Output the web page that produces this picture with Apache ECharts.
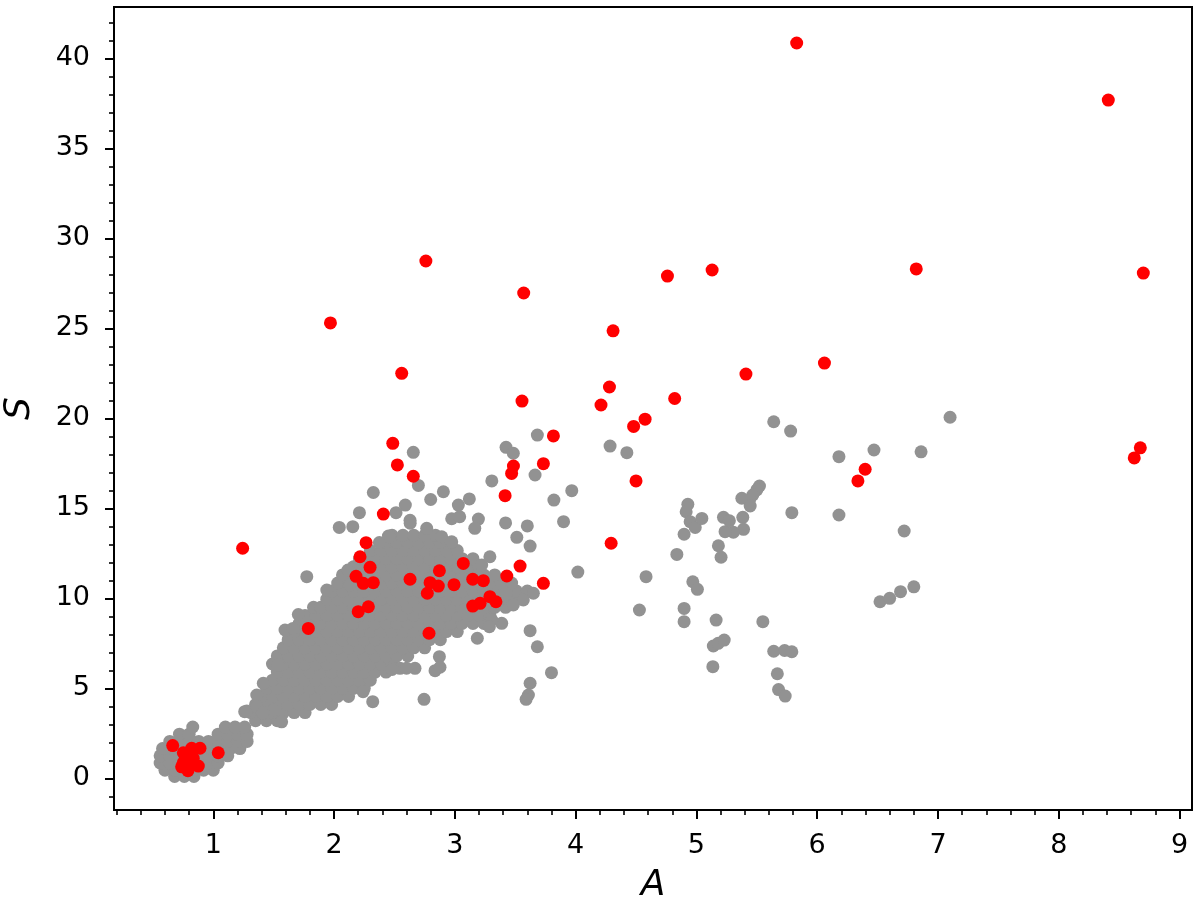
<!DOCTYPE html>
<html>
<head>
<meta charset="utf-8">
<script src="https://cdn.jsdelivr.net/npm/echarts@6/dist/echarts.min.js"></script>
<style>
html,body{margin:0;padding:0;background:#fff;}
#chart{width:1200px;height:907px;}
</style>
</head>
<body>
<div id="chart"></div>
<script>
// ---- tick values ----
const xMajorTicks = [1,2,3,4,5,6,7,8,9];
const xMinorTicks = [0.2,0.4,0.6,0.8,1.2,1.4,1.6,1.8,2.2,2.4,2.6,2.8,3.2,3.4,3.6,3.8,4.2,4.4,4.6,4.8,5.2,5.4,5.6,5.8,6.2,6.4,6.6,6.8,7.2,7.4,7.6,7.8,8.2,8.4,8.6,8.8,9.0];
const yMajorTicks = [0,5,10,15,20,25,30,35,40];
const yMinorTicks = [-1,1,2,3,4,6,7,8,9,11,12,13,14,16,17,18,19,21,22,23,24,26,27,28,29,31,32,33,34,36,37,38,39,41,42];

// ---- gray points: lower-left clump, rows of [S, [A values]] ----
const grayLowRows = [
  [0.10, [0.68,0.76,0.84]],
  [0.45, [0.60,0.68,0.76,0.84,0.92,1.00]],
  [0.85, [0.56,0.64,0.72,0.80,0.88,0.96,1.04]],
  [1.25, [0.56,0.64,0.72,0.80,0.88,0.96,1.04,1.12]],
  [1.65, [0.58,0.66,0.74,0.82,0.90,0.98,1.06,1.14,1.22]],
  [2.05, [0.64,0.72,0.80,0.88,0.96,1.04,1.12,1.20,1.28]],
  [2.45, [0.72,0.80,1.04,1.12,1.20,1.28]],
  [2.85, [0.83,1.10,1.18,1.26]]
];

// ---- gray points: main dense cloud, rows of [S, [A values]] ----
const grayMainRows = [
  [3.2,  [1.35,1.44,1.53]],
  [3.65, [1.31,1.40,1.49,1.58,1.67,1.76]],
  [4.1,  [1.35,1.44,1.53,1.62,1.71,1.80,1.89,1.98]],
  [4.55, [1.40,1.49,1.58,1.67,1.76,1.85,1.94,2.03,2.12]],
  [5.0,  [1.44,1.53,1.62,1.71,1.80,1.89,1.98,2.07,2.16,2.25]],
  [5.45, [1.49,1.58,1.67,1.76,1.85,1.94,2.03,2.12,2.21,2.30]],
  [5.9,  [1.53,1.62,1.71,1.80,1.89,1.98,2.07,2.16,2.25,2.34,2.43]],
  [6.35, [1.49,1.58,1.67,1.76,1.85,1.94,2.03,2.12,2.21,2.30,2.39,2.48]],
  [6.8,  [1.53,1.62,1.71,1.80,1.89,1.98,2.07,2.16,2.25,2.34,2.43,2.52,2.61]],
  [7.25, [1.58,1.67,1.76,1.85,1.94,2.03,2.12,2.21,2.30,2.39,2.48,2.57,2.66,2.75]],
  [7.7,  [1.62,1.71,1.80,1.89,1.98,2.07,2.16,2.25,2.34,2.43,2.52,2.61,2.70,2.79,2.88]],
  [8.15, [1.67,1.76,1.85,1.94,2.03,2.12,2.21,2.30,2.39,2.48,2.57,2.66,2.75,2.84,2.93,3.02]],
  [8.6,  [1.71,1.80,1.89,1.98,2.07,2.16,2.25,2.34,2.43,2.52,2.61,2.70,2.79,2.88,2.97,3.06,3.15,3.24]],
  [9.05, [1.76,1.85,1.94,2.03,2.12,2.21,2.30,2.39,2.48,2.57,2.66,2.75,2.84,2.93,3.02,3.11,3.20,3.29]],
  [9.5,  [1.83,1.89,1.98,2.07,2.16,2.25,2.34,2.43,2.52,2.61,2.70,2.79,2.88,2.97,3.06,3.15,3.24,3.33,3.42]],
  [9.95, [1.94,2.03,2.12,2.21,2.30,2.39,2.48,2.57,2.66,2.75,2.84,2.93,3.02,3.11,3.20,3.29,3.38,3.47,3.56]],
  [10.4, [1.98,2.07,2.16,2.25,2.34,2.43,2.52,2.61,2.70,2.79,2.88,2.97,3.06,3.15,3.24,3.33,3.42,3.51,3.60]],
  [10.85,[2.03,2.12,2.21,2.30,2.39,2.48,2.57,2.66,2.75,2.84,2.93,3.02,3.11,3.20,3.29,3.38,3.47]],
  [11.3, [2.07,2.16,2.25,2.34,2.43,2.52,2.61,2.70,2.79,2.88,2.97,3.06,3.15,3.24,3.33]],
  [11.75,[2.16,2.21,2.30,2.39,2.48,2.57,2.66,2.75,2.84,2.93,3.02,3.11,3.20]],
  [12.2, [2.21,2.25,2.34,2.43,2.52,2.61,2.70,2.79,2.88,2.97,3.06,3.15]],
  [12.65,[2.30,2.39,2.48,2.57,2.66,2.75,2.84,2.93,3.02]],
  [13.1, [2.43,2.52,2.61,2.70,2.79,2.88,2.97]],
  [13.5, [2.48,2.57,2.66,2.75,2.84]]
];

// ---- gray points: scattered individual [A, S] ----
const grayScattered = [
  [5.78,19.29],[7.10,20.06],[6.18,17.87],[6.47,18.24],[6.86,18.14],[5.79,14.76],[6.18,14.63],[6.72,13.74],
  [6.52,9.81],[6.60,10.00],[6.69,10.37],[6.80,10.64],[5.64,7.06],[5.73,7.10],[5.79,7.03],[5.67,5.81],[5.68,4.93],[5.735,4.57],
  [5.64,19.81],[4.285,18.46],[4.424,18.09],[3.968,15.98],[3.90,14.26],[5.522,16.24],[5.50,16.02],[5.467,15.74],[5.44,15.46],
  [5.376,15.56],[5.445,15.13],[5.384,14.50],[5.39,13.83],[5.306,13.67],[5.237,13.70],[5.224,14.50],[5.273,14.31],[5.182,12.92],
  [5.204,12.28],[4.929,15.22],[4.915,14.81],[4.948,14.26],[4.99,13.94],[5.045,14.44],[4.898,13.56],[4.838,12.44],[4.018,11.46],
  [4.583,11.20],[4.97,10.92],[5.008,10.50],[4.528,9.35],[4.898,9.44],[4.898,8.70],[5.163,8.79],[5.55,8.70],[5.14,7.35],
  [5.18,7.50],[5.23,7.68],[5.136,6.20],
  [3.683,19.07],[3.424,18.39],[3.484,18.06],[3.306,16.52],[3.664,16.85],[3.82,15.46],[2.656,18.11],[2.698,16.27],[2.905,15.92],
  [2.80,15.49],[3.029,15.18],[3.12,15.52],[2.974,14.42],[3.04,14.53],[3.195,14.40],[3.165,13.89],[2.629,14.33],[2.767,13.89],
  [2.59,15.18],[3.42,14.19],[3.60,14.02],[3.513,13.39],[3.623,12.90],[2.891,13.42],[2.974,13.14],[3.29,12.31],[3.222,11.85],
  [2.325,15.88],[2.21,14.76],[2.155,13.98],[2.043,13.94],[2.513,14.76],[2.45,13.46],[2.375,13.10],[2.46,13.42],[2.63,14.17],
  [3.65,10.28],[3.567,9.91],[3.484,9.63],[3.424,10.28],[3.388,8.61],[3.306,8.79],[3.286,8.42],[3.623,8.20],[3.683,7.31],
  [3.80,5.87],[3.623,5.28],[3.609,4.63],[3.59,4.39],[3.186,7.78],[2.872,6.76],[2.836,5.98],[2.877,6.17],[2.745,4.39],
  [2.67,6.11],[2.546,6.11],[2.60,6.12],[2.48,6.05],
  [1.774,11.20],[1.94,10.46],[1.704,9.10],[1.594,8.24],[1.66,8.33],[1.538,6.29],[1.414,5.28],[1.36,4.63],[1.26,3.70],
  [2.115,11.57],[2.13,10.74],[2.24,4.81],[2.32,4.26],[1.277,3.74],[1.36,3.98],[1.497,3.79],[1.41,3.63],[1.566,3.14]
];

// ---- red points [A, S] ----
const redPoints = [
  [5.83,40.85],[8.41,37.68],[1.97,25.30],[2.76,28.74],[2.56,22.50],[3.57,26.96],[4.76,27.90],[5.13,28.24],[6.82,28.30],
  [8.70,28.07],[4.31,24.86],[4.28,21.74],[4.21,20.74],[6.06,23.07],[5.41,22.46],[3.556,20.96],[4.82,21.10],[4.575,19.95],
  [4.48,19.55],[3.816,19.02],[3.733,17.48],[3.485,17.35],[3.47,16.94],[3.416,15.70],[2.486,18.61],[2.524,17.41],[2.656,16.78],
  [2.408,14.68],[4.50,16.52],[4.294,13.06],[6.397,17.17],[6.337,16.52],[8.675,18.36],[8.625,17.80],[1.243,12.78],
  [2.265,13.09],[2.215,12.31],[2.298,11.72],[2.182,11.22],[2.242,10.83],[2.325,10.87],[2.629,11.06],[2.284,9.53],[2.20,9.26],
  [1.787,8.33],[3.07,11.94],[3.54,11.79],[3.43,11.24],[3.733,10.83],[2.872,11.53],[2.795,10.87],[2.863,10.68],[2.993,10.76],
  [3.148,11.06],[3.236,10.98],[2.772,10.28],[3.29,10.09],[3.34,9.81],[3.148,9.57],[3.209,9.72],[2.786,8.06],
  [0.664,1.82],[0.752,1.42],[0.821,1.67],[0.89,1.67],[1.041,1.42],[0.752,0.87],[0.807,0.68],[0.876,0.68],[0.79,0.42],
  [0.834,1.11],[0.738,0.64]
];

// ---- assemble ----
const grayData = [];
grayLowRows.forEach(r => r[1].forEach(x => grayData.push([x, r[0]])));
grayMainRows.forEach(r => r[1].forEach(x => grayData.push([x, r[0]])));
grayScattered.forEach(p => grayData.push(p));

const X_MIN = 0.178, X_MAX = 9.103, Y_MIN = -1.76, Y_MAX = 42.85;
const FONT = 'DejaVu Sans';
const black = '#000';

const chart = echarts.init(document.getElementById('chart'), null, {renderer: 'canvas'});
chart.setOption({
  animation: false,
  backgroundColor: '#fff',
  grid: {left: 114, right: 8, top: 7, bottom: 97, containLabel: false, outerBoundsMode: 'none',
         show: true, borderColor: black, borderWidth: 2, backgroundColor: 'transparent'},
  xAxis: [
    {
      type: 'value', min: X_MIN, max: X_MAX, position: 'bottom',
      axisLine: {show: false, onZero: false},
      axisTick: {show: true, customValues: xMajorTicks, length: 9, lineStyle: {color: black, width: 2}},
      axisLabel: {show: true, customValues: xMajorTicks, fontSize: 27, color: black, fontFamily: FONT, margin: 22},
      splitLine: {show: false},
      name: 'A', nameLocation: 'middle', nameGap: 58,
      nameTextStyle: {fontSize: 36, fontStyle: 'italic', color: black, fontFamily: FONT}
    },
    {
      type: 'value', min: X_MIN, max: X_MAX, position: 'bottom',
      axisLine: {show: false, onZero: false},
      axisTick: {show: true, customValues: xMinorTicks, length: 5, lineStyle: {color: black, width: 1.6}},
      axisLabel: {show: false},
      splitLine: {show: false}
    }
  ],
  yAxis: [
    {
      type: 'value', min: Y_MIN, max: Y_MAX, position: 'left',
      axisLine: {show: false, onZero: false},
      axisTick: {show: true, customValues: yMajorTicks, length: 9, lineStyle: {color: black, width: 2}},
      axisLabel: {show: true, customValues: yMajorTicks, fontSize: 27, color: black, fontFamily: FONT, margin: 24},
      splitLine: {show: false},
      name: 'S', nameLocation: 'middle', nameGap: 76, nameRotate: 90,
      nameTextStyle: {fontSize: 36, fontStyle: 'italic', color: black, fontFamily: FONT}
    },
    {
      type: 'value', min: Y_MIN, max: Y_MAX, position: 'left',
      axisLine: {show: false, onZero: false},
      axisTick: {show: true, customValues: yMinorTicks, length: 5, lineStyle: {color: black, width: 1.6}},
      axisLabel: {show: false},
      splitLine: {show: false}
    }
  ],
  series: [
    {
      type: 'scatter', xAxisIndex: 0, yAxisIndex: 0, data: grayData,
      symbol: 'circle', symbolSize: 13,
      itemStyle: {color: '#929292', opacity: 1},
      emphasis: {disabled: true}, z: 2
    },
    {
      type: 'scatter', xAxisIndex: 0, yAxisIndex: 0, data: redPoints,
      symbol: 'circle', symbolSize: 13,
      itemStyle: {color: '#ff0000', opacity: 1},
      emphasis: {disabled: true}, z: 3
    }
  ]
});
</script>
</body>
</html>
